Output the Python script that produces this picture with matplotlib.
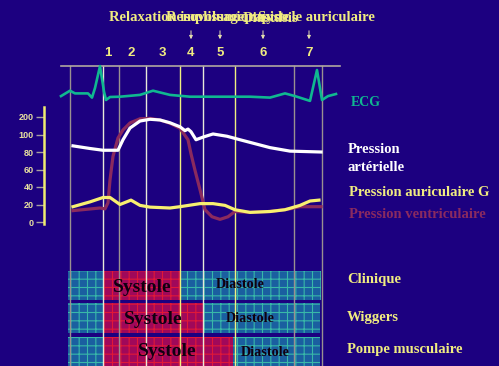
import matplotlib
matplotlib.use("Agg")
import matplotlib.pyplot as plt
import numpy as np

plt.rcParams['hatch.linewidth'] = 0.8

# ---------------- data ----------------
# time axis (arbitrary units along the cardiac cycle)
arterial_t = [73, 90, 103, 118, 123, 130, 140, 150, 160, 170, 180, 185, 188, 191, 196, 203, 213, 227, 240, 250, 270, 290, 321]
arterial_p = [87, 84, 82, 82, 94, 137, 177, 187, 183, 167, 144, 122, 131, 116, 94, 97, 103, 98, 94, 91, 85, 81, 80]

ventricle_t = [73, 100, 105, 108, 110, 113, 118, 123, 130, 140, 150, 160, 170, 180, 188, 191, 195, 200, 205, 212, 220, 228, 235, 250, 270, 290, 300, 321]
ventricle_p = [13, 16, 15, 22, 48, 75, 96, 126, 166, 190, 192, 183, 164, 135, 94, 78, 59, 37, 14, 6, 3, 6, 12, 11, 12, 15, 17.5, 17.5]

atrium_t = [73, 90, 103, 110, 120, 131, 140, 150, 170, 180, 200, 213, 225, 235, 250, 270, 285, 300, 310, 319]
atrium_p = [17.5, 23, 28, 28, 20, 25, 19, 17, 16, 17.5, 21, 21, 19, 14, 11, 12, 14, 19, 24, 25]

ecg_t = [61, 70, 75, 88, 92, 95, 100, 104, 106, 110, 120, 140, 153, 170, 190, 250, 270, 285, 295, 310, 317, 322, 328, 336]
ecg_mv = [0.03, 0.21, 0.12, 0.12, -0.02, 0.3, 1.03, 0.18, -0.1, 0.0, 0.01, 0.07, 0.21, 0.07, 0.01, 0.01, -0.02, 0.12, 0.03, -0.13, 0.9, -0.1, 0.03, 0.1]

pressure_ticks = [0, 20, 40, 60, 80, 100, 200]

event_t = [70, 103, 119, 146, 180, 203, 235, 294, 322]
event_kind = ['g', 'w', 'g', 'w', 'y', 'w', 'y', 'g', 'g']

phase_nums = ['1', '2', '3', '4', '5', '6', '7']
phase_num_t = [108, 131, 162, 191, 220, 263, 309]
arrow_t = [191, 220, 263, 309]

phase_titles = ['Relaxation isovolumique', 'Remplissage rapide', 'Diastasis', 'Systole auriculaire']
phase_title_t = [109, 166, 243, 375]
phase_title_ha = ['left', 'left', 'left', 'right']

rows = ['Clinique', 'Wiggers', 'Pompe musculaire']
cycle_start = 68
cycle_end = [321, 320, 320]
systole_start = [103, 103, 103]
systole_end = [181.5, 204, 233]

# ---------------- colours ----------------
BG = '#1c0080'
VCOL = {'g': '#9a9090', 'w': '#e8e8d8', 'y': '#f0f080'}
YEL = '#f0ec80'

W, H = 499, 366
fig = plt.figure(figsize=(W / 100, H / 100), dpi=100, facecolor=BG)

# base layout axes (pixel-like units)
ax = fig.add_axes([0, 0, 1, 1])
ax.set_xlim(0, W)
ax.set_ylim(H, 0)
ax.set_facecolor(BG)
ax.axis('off')

# rows of bars
row_top = [271, 302.5, 336.5]
row_h = [28.5, 30, 30]
for i, name in enumerate(rows):
    ax.barh(row_top[i], systole_start[i] - cycle_start, left=cycle_start, height=row_h[i], align='edge',
            color='#1a5fa0', edgecolor='#38b8a8', hatch='++', linewidth=0, zorder=1)
    ax.barh(row_top[i], systole_end[i] - systole_start[i], left=systole_start[i], height=row_h[i], align='edge',
            color='#a0085a', edgecolor='#e01838', hatch='++', linewidth=0, zorder=1)
    ax.barh(row_top[i], cycle_end[i] - systole_end[i], left=systole_end[i], height=row_h[i], align='edge',
            color='#1a5fa0', edgecolor='#38b8a8', hatch='++', linewidth=0, zorder=1)

sys_text_x = [142.5, 153.7, 167.5]
sys_text_y = [287, 320, 351]
dia_text_x = [240, 250, 265]
dia_text_y = [285, 319, 352]
for i in range(3):
    ax.text(sys_text_x[i], sys_text_y[i], 'Systole', family='Liberation Serif', weight='bold',
            fontsize=14, color='#100010', ha='center', va='center', zorder=5)
    ax.text(dia_text_x[i], dia_text_y[i], 'Diastole', family='Liberation Serif', weight='bold',
            fontsize=10.2, color='#100010', ha='center', va='center', zorder=5)

row_label_y = [280, 317.5, 349.5]
for i, name in enumerate(rows):
    ax.text(347, row_label_y[i], name, family='Liberation Serif', weight='bold', fontsize=10.5,
            color=YEL, ha='left', va='center')

# vertical event lines
for t, k in zip(event_t, event_kind):
    ax.plot([t, t], [65.5, H], color=VCOL[k], lw=1.0, zorder=3)
ax.plot([61, 340], [65.5, 65.5], color='#b0a8a0', lw=1.2, zorder=3)

# phase numbers and arrows
for s, t in zip(phase_nums, phase_num_t):
    ax.text(t, 53, s, family='Liberation Sans', weight='bold', fontsize=9.5, color=YEL,
            ha='center', va='center')
for t in arrow_t:
    ax.annotate('', xy=(t, 42), xytext=(t, 28),
                arrowprops=dict(arrowstyle='-|>', color='#e8e4b0', lw=0.7, mutation_scale=5))
for s, t, ha in zip(phase_titles, phase_title_t, phase_title_ha):
    ax.text(t, 18, s, family='Liberation Serif', weight='bold', fontsize=10.5, color=YEL,
            ha=ha, va='center')

# right-side curve labels
ax.text(351, 102, 'ECG', family='Liberation Serif', weight='bold', fontsize=10, color='#10b890',
        ha='left', va='center')
ax.text(347.5, 149.5, 'Pression', family='Liberation Serif', weight='bold', fontsize=10.5, color='white',
        ha='left', va='center')
ax.text(347.5, 167.5, 'artérielle', family='Liberation Serif', weight='bold', fontsize=10.5, color='white',
        ha='left', va='center')
ax.text(349, 192.5, 'Pression auriculaire G', family='Liberation Serif', weight='bold', fontsize=10.5,
        color=YEL, ha='left', va='center')
ax.text(349, 214.5, 'Pression ventriculaire', family='Liberation Serif', weight='bold', fontsize=10.5,
        color='#8a2a60', ha='left', va='center')

# ---------------- ECG axes ----------------
ecg_top, ecg_bot = 60, 105
axe = fig.add_axes([0, (H - ecg_bot) / H, 1, (ecg_bot - ecg_top) / H])
axe.set_xlim(0, W)
axe.set_ylim((97 - ecg_bot) / 30, (97 - ecg_top) / 30)
axe.axis('off')
axe.plot(ecg_t, ecg_mv, color='#10b890', lw=1.9, solid_joinstyle='round', zorder=4)

# ---------------- pressure axes ----------------
def fwd(v):
    v = np.asarray(v, dtype=float)
    return np.where(v <= 100, v / 20.0, 5 + (v - 100) / 100.0)

def inv(u):
    u = np.asarray(u, dtype=float)
    return np.where(u <= 5, u * 20.0, 100 + (u - 5) * 100.0)

p_bot, p_top = 222, 117
axp = fig.add_axes([0, (H - p_bot) / H, 1, (p_bot - p_top) / H])
axp.patch.set_alpha(0)
axp.set_xlim(0, W)
axp.set_yscale('function', functions=(fwd, inv))
axp.set_ylim(0, 200)
for sp in ['top', 'right', 'bottom']:
    axp.spines[sp].set_visible(False)
axp.spines['left'].set_position(('data', 44))
axp.spines['left'].set_color('#f0ec70')
axp.spines['left'].set_linewidth(1.8)
axp.spines['left'].set_bounds(-2, 260)
axp.set_xticks([])
axp.set_yticks(pressure_ticks)
axp.set_yticklabels([str(v) for v in pressure_ticks])
axp.yaxis.set_minor_locator(matplotlib.ticker.NullLocator())
axp.tick_params(axis='y', direction='out', length=6, width=1.0, color='#a8a0a0',
                labelcolor='#e8e0a0', labelsize=6.5, pad=1.5)
for lab in axp.get_yticklabels():
    lab.set_family('Liberation Sans')
    lab.set_weight('bold')

axp.plot(ventricle_t, ventricle_p, color='#8a2a5e', lw=2.3, clip_on=False, zorder=4,
         solid_joinstyle='round')
axp.plot(atrium_t, atrium_p, color='#f8f070', lw=2.3, clip_on=False, zorder=5,
         solid_joinstyle='round')
axp.plot(arterial_t, arterial_p, color='white', lw=2.3, clip_on=False, zorder=6,
         solid_joinstyle='round')

fig.savefig('out.png', dpi=100, facecolor=BG)
